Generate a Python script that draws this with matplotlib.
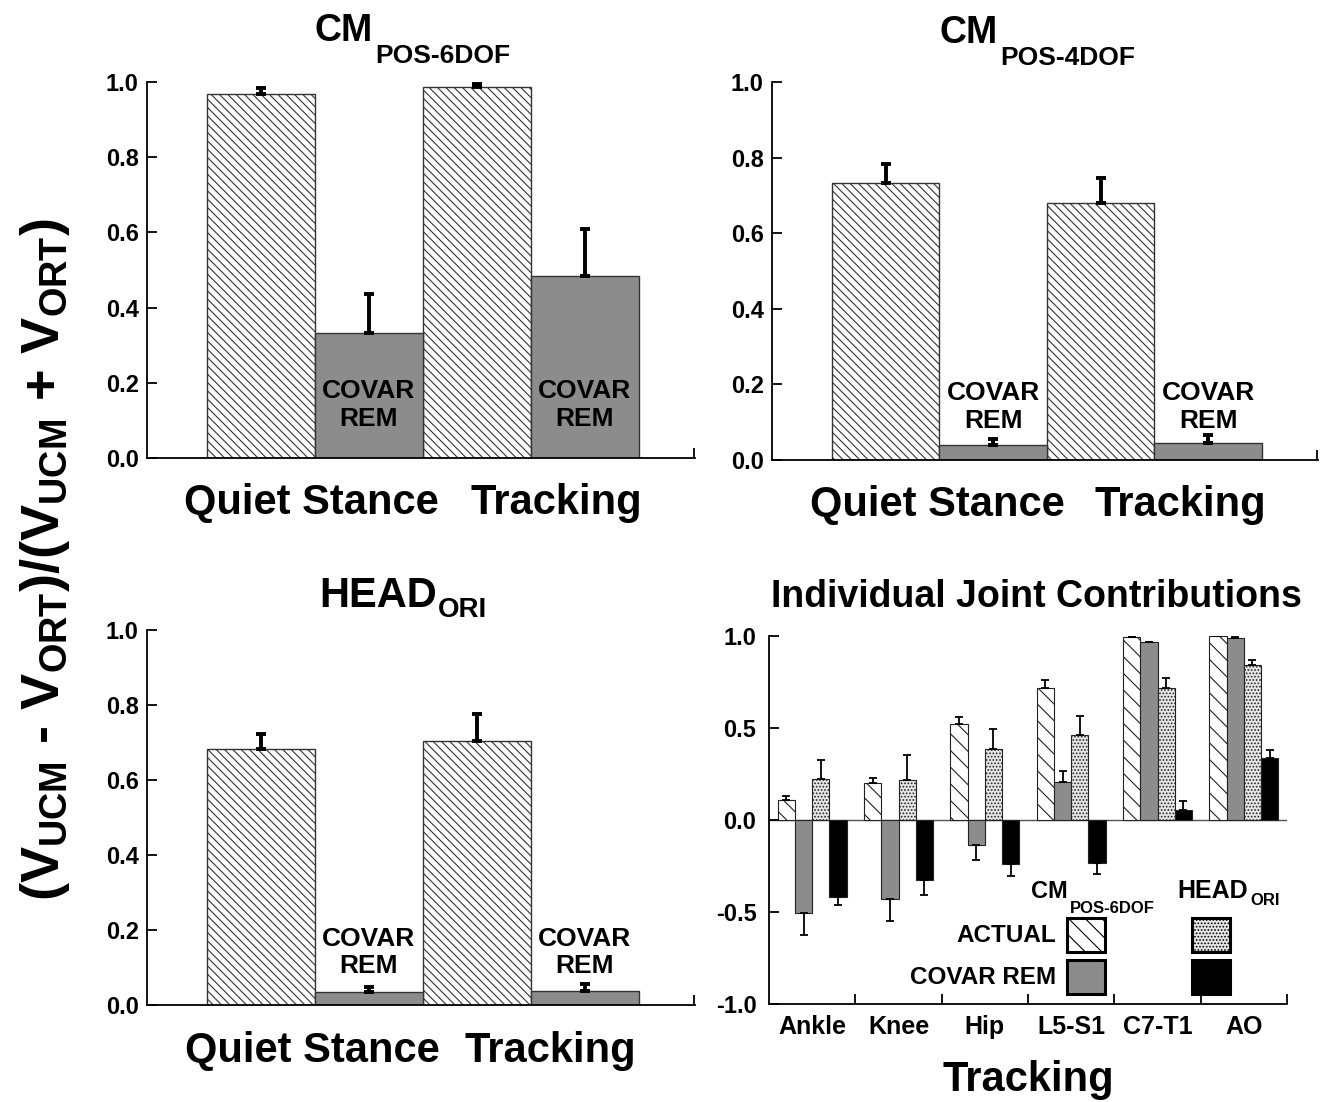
import numpy as np
import matplotlib
matplotlib.use('Agg')
import matplotlib.pyplot as plt
from matplotlib.patches import Rectangle

# ---- data ----
conditions = ['Quiet Stance', 'Tracking']

# CM POS-6DOF
cm6_actual = [0.968, 0.988]
cm6_actual_err = [0.016, 0.006]
cm6_covar = [0.332, 0.483]
cm6_covar_err = [0.104, 0.126]

# CM POS-4DOF
cm4_actual = [0.733, 0.679]
cm4_actual_err = [0.049, 0.068]
cm4_covar = [0.041, 0.044]
cm4_covar_err = [0.015, 0.022]

# HEAD ORI
head_actual = [0.683, 0.704]
head_actual_err = [0.040, 0.071]
head_covar = [0.036, 0.037]
head_covar_err = [0.013, 0.020]

# individual joints (tracking)
joints = ['Ankle', 'Knee', 'Hip', 'L5-S1', 'C7-T1', 'AO']
j_cm_actual = [0.11, 0.20, 0.52, 0.72, 0.995, 1.0]
j_cm_actual_err = [0.02, 0.03, 0.042, 0.042, 0.005, 0.0]
j_cm_covar = [-0.505, -0.43, -0.135, 0.205, 0.965, 0.99]
j_cm_covar_err = [0.12, 0.12, 0.08, 0.06, 0.004, 0.004]
j_head_actual = [0.225, 0.215, 0.385, 0.46, 0.715, 0.84]
j_head_actual_err = [0.10, 0.14, 0.11, 0.104, 0.055, 0.032]
j_head_covar = [-0.42, -0.325, -0.24, -0.235, 0.055, 0.335]
j_head_covar_err = [0.04, 0.083, 0.067, 0.061, 0.05, 0.048]

W, H = 1321, 1102
GRAY = '#8c8c8c'

plt.rcParams['font.family'] = 'Liberation Sans'
plt.rcParams['font.weight'] = 'bold'
plt.rcParams['hatch.linewidth'] = 0.8
plt.rcParams['mathtext.fontset'] = 'custom'
plt.rcParams['mathtext.rm'] = 'Liberation Sans:bold'
plt.rcParams['mathtext.it'] = 'Liberation Sans:bold'
plt.rcParams['mathtext.bf'] = 'Liberation Sans:bold'

fig = plt.figure(figsize=(W / 100, H / 100), dpi=100)


def px_axes(x0, x1, y_top, y_bot):
    return fig.add_axes([x0 / W, 1 - y_bot / H, (x1 - x0) / W, (y_bot - y_top) / H])


def fig_label(x, y, s, size, ha='left'):
    fig.text(x / W, 1 - y / H, s, fontsize=size, fontweight='bold', ha=ha, va='baseline')


def style_axes(ax):
    for side in ['top', 'right']:
        ax.spines[side].set_visible(False)
    for side in ['left', 'bottom']:
        ax.spines[side].set_linewidth(1.3)


def cond_panel(ax, actual, actual_err, covar, covar_err, tick_x, pad):
    x = np.arange(4) + 0.5
    vals = np.array([actual[0], covar[0], actual[1], covar[1]])
    errs = np.array([actual_err[0], covar_err[0], actual_err[1], covar_err[1]])
    ax.bar(x[[0, 2]], vals[[0, 2]], width=1.0, color='white', edgecolor='#333',
           linewidth=1.0, hatch='\\\\\\\\')
    ax.bar(x[[1, 3]], vals[[1, 3]], width=1.0, color=GRAY, edgecolor='#333', linewidth=1.0)
    ax.errorbar(x, vals, yerr=[np.zeros(4), errs], fmt='none', ecolor='black',
                elinewidth=2.8, capsize=3.8, capthick=2.8, zorder=3)
    for i in (1, 3):
        ax.text(x[i], 0.14, 'COVAR\nREM', ha='center', va='center', fontsize=19,
                fontweight='bold', linespacing=1.2)
    ax.set_xlim(-0.555, 4.52)
    ax.set_ylim(0, 1.0)
    ax.set_yticks(np.arange(0, 1.01, 0.2))
    ax.set_yticklabels(['%.1f' % v for v in np.arange(0, 1.01, 0.2)], fontsize=17)
    ax.tick_params(axis='y', direction='in', length=7, width=1.3, pad=6)
    ax.set_xticks(tick_x)
    ax.set_xticklabels(conditions, fontsize=30)
    ax.tick_params(axis='x', which='major', length=0, pad=pad)
    ax.set_xticks([4.515], minor=True)
    ax.tick_params(axis='x', which='minor', direction='in', length=7, width=1.3)
    style_axes(ax)


ax1 = px_axes(147, 695, 82, 458)
cond_panel(ax1, cm6_actual, cm6_actual_err, cm6_covar, cm6_covar_err, [0.97, 3.24], 18)
fig_label(373, 41, 'CM', 27, ha='right')
fig_label(375, 63, 'POS-6DOF', 19)

ax2 = px_axes(772, 1318, 82, 460)
cond_panel(ax2, cm4_actual, cm4_actual_err, cm4_covar, cm4_covar_err, [0.98, 3.24], 18)
fig_label(998, 43, 'CM', 27, ha='right')
fig_label(1000, 65, 'POS-4DOF', 19)

ax3 = px_axes(147, 695, 630, 1005)
cond_panel(ax3, head_actual, head_actual_err, head_covar, head_covar_err, [0.98, 3.18], 19)
fig_label(437, 607, 'HEAD', 30, ha='right')
fig_label(438, 617, 'ORI', 20)

# ---- individual joint contributions ----
ax4 = px_axes(769, 1287, 636, 1004)
xg = np.arange(len(joints)) + 0.5
series = [
    (j_cm_actual, j_cm_actual_err, 'white', '\\\\'),
    (j_cm_covar, j_cm_covar_err, GRAY, None),
    (j_head_actual, j_head_actual_err, '#e6e6e6', '.....'),
    (j_head_covar, j_head_covar_err, 'black', None),
]
offsets = [-0.3, -0.1, 0.1, 0.3]
for (vals, errs, fc, hatch), off in zip(series, offsets):
    vals = np.array(vals)
    errs = np.array(errs)
    ax4.bar(xg + off, vals, width=0.2, color=fc, edgecolor='#222', linewidth=0.8, hatch=hatch)
    lower = np.where(vals < 0, errs, 0)
    upper = np.where(vals >= 0, errs, 0)
    ax4.errorbar(xg + off, vals, yerr=[lower, upper], fmt='none', ecolor='black',
                 elinewidth=1.3, capsize=3, capthick=1.3, zorder=3)
ax4.axhline(0, color='#555', linewidth=1.0, zorder=0.9)
ax4.set_xlim(0, 6)
ax4.set_ylim(-1, 1)
ax4.set_yticks([-1, -0.5, 0, 0.5, 1])
ax4.set_yticklabels(['-1.0', '-0.5', '0.0', '0.5', '1.0'], fontsize=17)
ax4.tick_params(axis='y', direction='in', length=7, width=1.3, pad=9)
ax4.set_xticks(np.arange(1, 7))
ax4.set_xticklabels([])
ax4.tick_params(axis='x', which='major', direction='in', length=7, width=1.3)
ax4.set_xticks(xg, minor=True)
ax4.set_xticklabels(joints, minor=True, fontsize=18)
ax4.tick_params(axis='x', which='minor', length=0, pad=8)
ax4.set_xlabel('Tracking', fontsize=30, fontweight='bold', labelpad=15)
style_axes(ax4)
fig_label(1036, 607, 'Individual Joint Contributions', 27, ha='center')

# legend drawn by hand (two columns with headers)
tr = ax4.transAxes
boxes = [
    (0.575, 0.141, 'white', '\\\\'),
    (0.575, 0.027, GRAY, None),
    (0.816, 0.141, '#e6e6e6', '.....'),
    (0.816, 0.027, 'black', None),
]
for bx, by, fc, hatch in boxes:
    ax4.add_patch(Rectangle((bx, by), 0.073, 0.093, transform=tr, facecolor=fc,
                            edgecolor='black', linewidth=2.2, hatch=hatch, clip_on=False, zorder=4))
ax4.text(0.554, 0.1875, 'ACTUAL', transform=tr, ha='right', va='center', fontsize=17.5, fontweight='bold')
ax4.text(0.554, 0.073, 'COVAR REM', transform=tr, ha='right', va='center', fontsize=17.5, fontweight='bold')
ax4.text(0.577, 0.288, 'CM', transform=tr, ha='right', va='baseline', fontsize=17, fontweight='bold')
ax4.text(0.581, 0.247, 'POS-6DOF', transform=tr, ha='left', va='baseline', fontsize=12, fontweight='bold')
ax4.text(0.925, 0.288, 'HEAD', transform=tr, ha='right', va='baseline', fontsize=18, fontweight='bold')
ax4.text(0.929, 0.269, 'ORI', transform=tr, ha='left', va='baseline', fontsize=12, fontweight='bold')

# shared y label
fig.text(45 / W, 1 - 560 / H, r'$(V_{UCM}\ \text{-}\ V_{ORT})/(V_{UCM}\ \text{+}\ V_{ORT})$',
         rotation=90, fontsize=39, ha='center', va='center')

fig.savefig('out.png', dpi=100)
